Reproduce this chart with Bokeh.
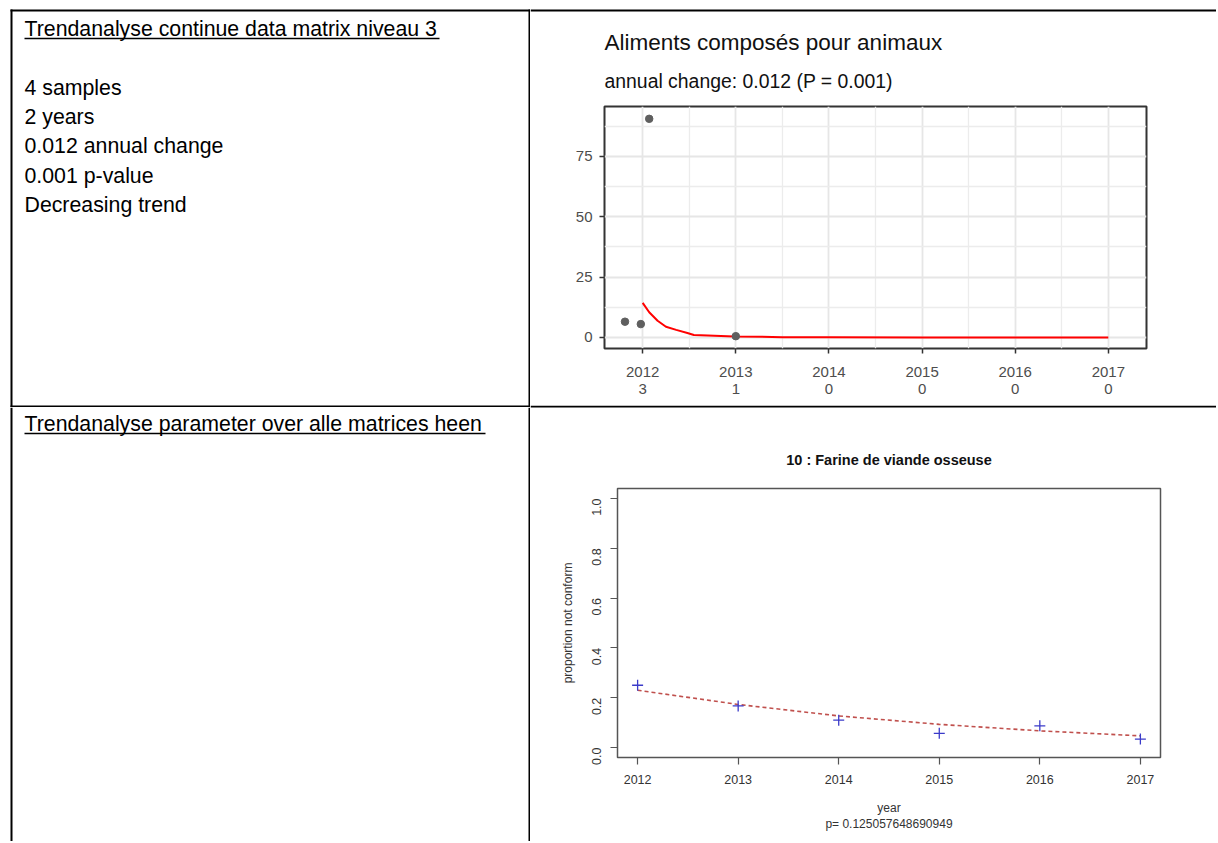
import numpy as np
from bokeh.plotting import figure
from bokeh.layouts import row, column
from bokeh.models import Range1d, FixedTicker, NumeralTickFormatter
from bokeh.core.properties import value
from bokeh.embed import file_html
from bokeh.resources import INLINE

FONT = "Liberation Sans"

# ---------------- data ----------------
# summary of the continuous-data trend (cell 1)
n_samples = 4
n_years = 2
annual_change = 0.012
p_value = 0.001
trend = "Decreasing"

cell1_heading = "Trendanalyse continue data matrix niveau 3"
cell2_heading = "Trendanalyse parameter over alle matrices heen"

# top chart
top_title = "Aliments composés pour animaux"
years = [2012, 2013, 2014, 2015, 2016, 2017]
samples_per_year = [3, 1, 0, 0, 0, 0]
sample_time = [2011.81, 2011.98, 2012.07, 2013.0]
sample_value = [6.5, 5.5, 90.5, 0.5]
fit_time = [2012.0, 2012.07, 2012.16, 2012.25, 2012.36, 2012.48, 2012.55,
            2012.7, 2012.98, 2013.5, 2014.0, 2015.0, 2016.0, 2017.0]
fit_value = [14.3, 10.4, 6.9, 4.4, 3.1, 1.8, 1.0, 0.8, 0.4, 0.1, 0.05, 0.0, 0.0, 0.0]
top_y_ticks = [0, 25, 50, 75]
top_y_minor = [12.5, 37.5, 62.5, 87.5]
top_x_minor = [2012.5, 2013.5, 2014.5, 2015.5, 2016.5]

# bottom chart
bottom_title = "10 : Farine de viande osseuse"
prop_years = [2012, 2013, 2014, 2015, 2016, 2017]
prop_not_conform = [0.25, 0.167, 0.11, 0.057, 0.087, 0.034]
prop_fit = [0.230, 0.173, 0.127, 0.093, 0.067, 0.047]
bottom_y_ticks = [0.0, 0.2, 0.4, 0.6, 0.8, 1.0]
bottom_p = "0.125057648690949"

cell1_lines = [f"{n_samples} samples", f"{n_years} years",
               f"{annual_change} annual change", f"{p_value} p-value",
               f"{trend} trend"]

# ---------------- layout sizes (page pixels) ----------------
LW = 530          # left column width (divider at 528..530)
RW = 686          # right column width
H1 = 407          # row 1 height
H2 = 434          # row 2 height
LINE = 2
TEXT_X = 24


def no_align(p):
    try:
        p.frame_align = False
    except Exception:
        pass
    return p


def blank(w, h):
    p = figure(width=w, height=h, x_range=Range1d(0, w), y_range=Range1d(h, 0),
               min_border=0, toolbar_location=None, x_axis_location=None,
               y_axis_location=None, output_backend="svg",
               outline_line_color=None, background_fill_color="white",
               border_fill_color="white")
    p.xgrid.visible = False
    p.ygrid.visible = False
    return no_align(p)


def text_cell(w, h, heading, hy, underline_len, lines, top_line, bottom_line):
    p = blank(w, h)
    y0 = 9 if top_line else 0
    rl, rr, rt, rb = [10, w - LINE], [12, w], [y0, y0], [h, h]   # left border, divider
    if top_line:
        rl.append(10); rr.append(w); rt.append(9); rb.append(11)
    if bottom_line:
        rl.append(10); rr.append(w); rt.append(h - LINE); rb.append(h)
    p.quad(left=rl, right=rr, top=rt, bottom=rb, color="black", line_color=None)
    p.text(x=[TEXT_X], y=[hy], text=[heading], text_font=value(FONT),
           text_font_size="21.3px", text_baseline="middle", text_color="black")
    p.segment(x0=[TEXT_X], y0=[hy + 10], x1=[TEXT_X + underline_len], y1=[hy + 10],
              line_color="black", line_width=1.3)
    if lines:
        ys = [87.3 + 29.3 * i for i in range(len(lines))]
        p.text(x=[TEXT_X] * len(lines), y=ys, text=lines, text_font=value(FONT),
               text_font_size="21.3px", text_baseline="middle", text_color="black")
    return p


L1 = text_cell(LW, H1, cell1_heading, 28, 415, cell1_lines, True, True)
L2 = text_cell(LW, H2, cell2_heading, 16, 461, [], False, False)

# ---------------- top chart (ggplot style) ----------------
T1H = 96
t1 = blank(RW, T1H)
t1.quad(left=[0], right=[RW], top=[9], bottom=[11], color="black", line_color=None)
t1.text(x=[74], y=[41.7], text=[top_title], text_font=value(FONT),
        text_font_size="22.5px", text_baseline="middle", text_color="#111111")
t1.text(x=[74], y=[80], text=[f"annual change: {annual_change} (P = {p_value})"],
        text_font=value(FONT), text_font_size="19.4px", text_baseline="middle",
        text_color="#111111")

C1H = 405 - T1H
c1 = figure(width=RW, height=C1H, x_range=Range1d(2011.59, 2017.41),
            y_range=Range1d(-4.6, 95.6), min_border_left=74, min_border_right=70,
            min_border_top=10, min_border_bottom=57, toolbar_location=None,
            output_backend="svg", background_fill_color="white",
            border_fill_color="white", outline_line_color="#333333",
            outline_line_width=2)
no_align(c1)
c1.xaxis.ticker = FixedTicker(ticks=years, minor_ticks=top_x_minor)
c1.yaxis.ticker = FixedTicker(ticks=top_y_ticks, minor_ticks=top_y_minor)
c1.xgrid.ticker = c1.xaxis.ticker
c1.ygrid.ticker = c1.yaxis.ticker
c1.grid.grid_line_color = "#e6e6e6"
c1.grid.grid_line_width = 1.8
c1.grid.minor_grid_line_color = "#ececec"
c1.grid.minor_grid_line_width = 1.3
c1.xaxis.major_label_overrides = {y: f"{y}\n{n}" for y, n in zip(years, samples_per_year)}
for ax in (c1.xaxis, c1.yaxis):
    ax.axis_line_color = None
    ax.major_tick_in = 0
    ax.major_tick_out = 5
    ax.major_tick_line_color = "#333333"
    ax.major_tick_line_width = 1.5
    ax.minor_tick_line_color = None
    ax.major_label_text_font = FONT
    ax.major_label_text_font_size = "15px"
    ax.major_label_text_color = "#4d4d4d"
c1.xaxis.major_label_text_line_height = 1.05
c1.xaxis.major_label_standoff = 9
c1.yaxis.major_label_standoff = 7

c1.line(fit_time, fit_value, line_color="#ff0000", line_width=2)
c1.scatter(sample_time, sample_value, size=7.5, color="#5f5f5f")

# ---------------- bottom chart (base R style) ----------------
T2H = 478 - 405
t2 = blank(RW, T2H)
t2.quad(left=[0], right=[RW], top=[0], bottom=[LINE], color="black", line_color=None)
t2.text(x=[358.5], y=[54], text=[bottom_title], text_font=value(FONT),
        text_font_size="14.5px", text_font_style="bold", text_align="center",
        text_baseline="middle", text_color="#111111")

C2H = 841 - 478
c2 = figure(width=RW, height=C2H, x_range=Range1d(2011.8, 2017.2),
            y_range=Range1d(-0.04, 1.04), min_border_left=87, min_border_right=56,
            min_border_top=10, min_border_bottom=84, toolbar_location=None,
            output_backend="svg", background_fill_color="white",
            border_fill_color="white", outline_line_color="#555555",
            outline_line_width=1.5)
no_align(c2)
c2.grid.visible = False
c2.xaxis.ticker = FixedTicker(ticks=prop_years)
c2.yaxis.ticker = FixedTicker(ticks=bottom_y_ticks)
c2.yaxis.formatter = NumeralTickFormatter(format="0.0")
c2.yaxis.major_label_orientation = np.pi / 2
for ax in (c2.xaxis, c2.yaxis):
    ax.axis_line_color = None
    ax.major_tick_in = 0
    ax.major_tick_out = 7
    ax.major_tick_line_color = "#555555"
    ax.major_tick_line_width = 1.2
    ax.minor_tick_line_color = None
    ax.major_label_text_font = FONT
    ax.major_label_text_font_size = "12.5px"
    ax.major_label_text_color = "#333333"
    ax.axis_label_text_font = FONT
    ax.axis_label_text_font_size = "12px"
    ax.axis_label_text_font_style = "normal"
    ax.axis_label_text_color = "#333333"
c2.xaxis.major_label_standoff = 10
c2.yaxis.major_label_standoff = 14
c2.xaxis.axis_label = f"year\np= {bottom_p}"
c2.xaxis.axis_label_text_line_height = 1.2
c2.xaxis.axis_label_standoff = 14
c2.yaxis.axis_label = "proportion not conform"
c2.yaxis.axis_label_standoff = 10

c2.line(prop_years, prop_fit, line_color="#c0504d", line_width=1.6, line_dash="4 3")
c2.scatter(prop_years, prop_not_conform, marker="cross", size=11,
           line_color="#3b3bc9", line_width=1.3)

page = row(column(L1, L2), column(t1, c1, t2, c2))

open("out.html", "w").write(file_html(page, INLINE, title="Trendanalyse"))
